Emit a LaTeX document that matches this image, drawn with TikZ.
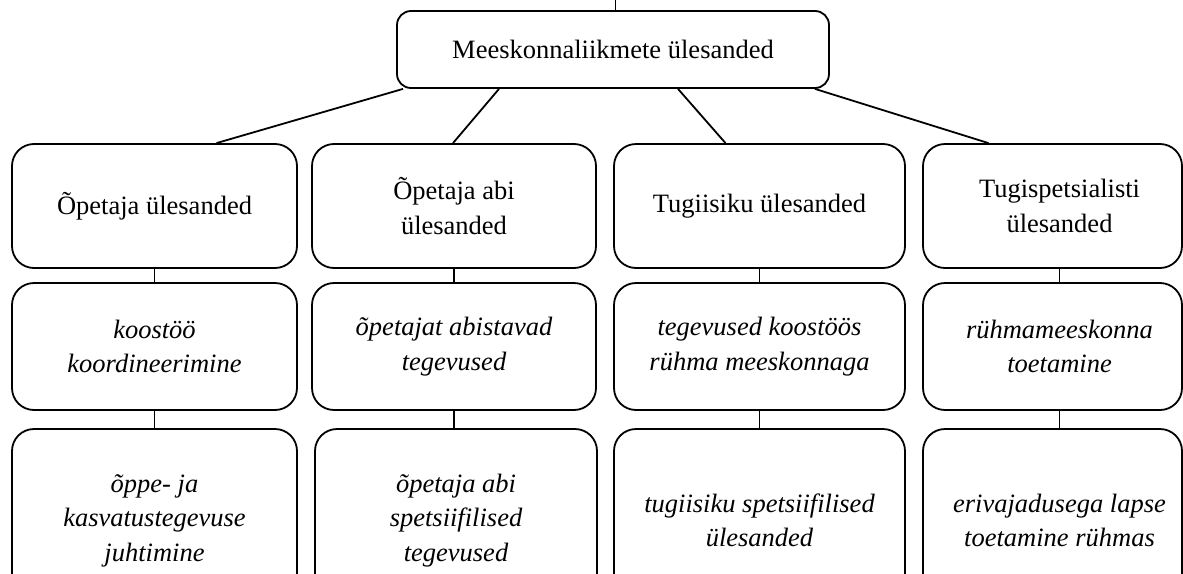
\documentclass[tikz,border=0pt]{standalone}
\usepackage{fontspec}
\setmainfont{Liberation Serif}
\begin{document}
\begin{tikzpicture}[x=1pt,y=-1pt,
  box/.style={draw,line width=1.8pt,rounded corners=22pt,inner sep=0pt,align=center,font=\fontsize{26.5}{34.5}\selectfont},
  ibox/.style={box,font=\fontsize{26.5}{34.5}\selectfont\itshape},
  link/.style={line width=1.8pt},
  r1/.style={minimum height=124pt},
  r2/.style={minimum height=127pt},
  r3/.style={minimum height=183pt}]
\useasboundingbox (0,0) rectangle (1183,573);
\node[box,rounded corners=14pt,minimum width=432pt,minimum height=77pt] (top) at (613,49.5) {Meeskonnaliikmete ülesanded};
% row 1
\node[box,r1,minimum width=285pt] (b1) at (154.5,206) {Õpetaja ülesanded};
\node[box,r1,minimum width=284pt] (b2) at (454,206) {Õpetaja abi\\ülesanded};
\node[box,r1,minimum width=291pt] (b3) at (759.5,206) {Tugiisiku ülesanded};
\node[box,r1,minimum width=259pt] (b4) at (1052.5,206) {\hspace*{14pt}Tugispetsialisti\\\hspace*{14pt}ülesanded};
% row 2
\node[ibox,r2,minimum width=285pt] (c1) at (154.5,346.5) {koostöö\\koordineerimine};
\node[ibox,r2,minimum width=284pt] (c2) at (454,346.5) {õpetajat abistavad\\tegevused};
\node[ibox,r2,minimum width=291pt] (c3) at (759.5,346.5) {tegevused koostöös\\rühma meeskonnaga};
\node[ibox,r2,minimum width=259pt] (c4) at (1052.5,346.5) {\hspace*{14pt}rühmameeskonna\\\hspace*{14pt}toetamine};
% row 3
\node[ibox,r3,minimum width=285pt] (d1) at (154.5,520.5) {õppe- ja\\kasvatustegevuse\\juhtimine};
\node[ibox,r3,minimum width=282pt] (d2) at (456,520.5) {õpetaja abi\\spetsiifilised\\tegevused};
\node[ibox,r3,minimum width=291pt] (d3) at (759.5,520.5) {tugiisiku spetsiifilised\\ülesanded};
\node[ibox,r3,minimum width=259pt] (d4) at (1052.5,520.5) {\hspace*{14pt}erivajadusega lapse\\\hspace*{14pt}toetamine rühmas};
% connectors from top box
\coordinate (tick) at (615,0);
\draw[line width=0.7pt] ([xshift=2pt]top.north) -- (tick);
\draw[link] ([xshift=-210pt]top.south) -- ([xshift=62pt]b1.north);
\draw[link] ([xshift=-114pt]top.south) -- ([xshift=-1pt]b2.north);
\draw[link] ([xshift=65pt]top.south) -- ([xshift=-34pt]b3.north);
\draw[link] ([xshift=202pt]top.south) -- ([xshift=-64pt]b4.north);
% vertical connectors
\draw[link] ([xshift=7pt]b4.south) -- ([xshift=7pt]c4.north);
\draw[link] (b1.south) -- (c1.north);
\draw[link] (b2.south) -- (c2.north);
\draw[link] (b3.south) -- (c3.north);
\draw[link] (c1.south) -- (d1.north);
\draw[link] (c2.south) -- (c2.south |- d2.north);
\draw[link] (c3.south) -- (d3.north);
\draw[link] ([xshift=7pt]c4.south) -- ([xshift=7pt]d4.north);
\end{tikzpicture}
\end{document}
